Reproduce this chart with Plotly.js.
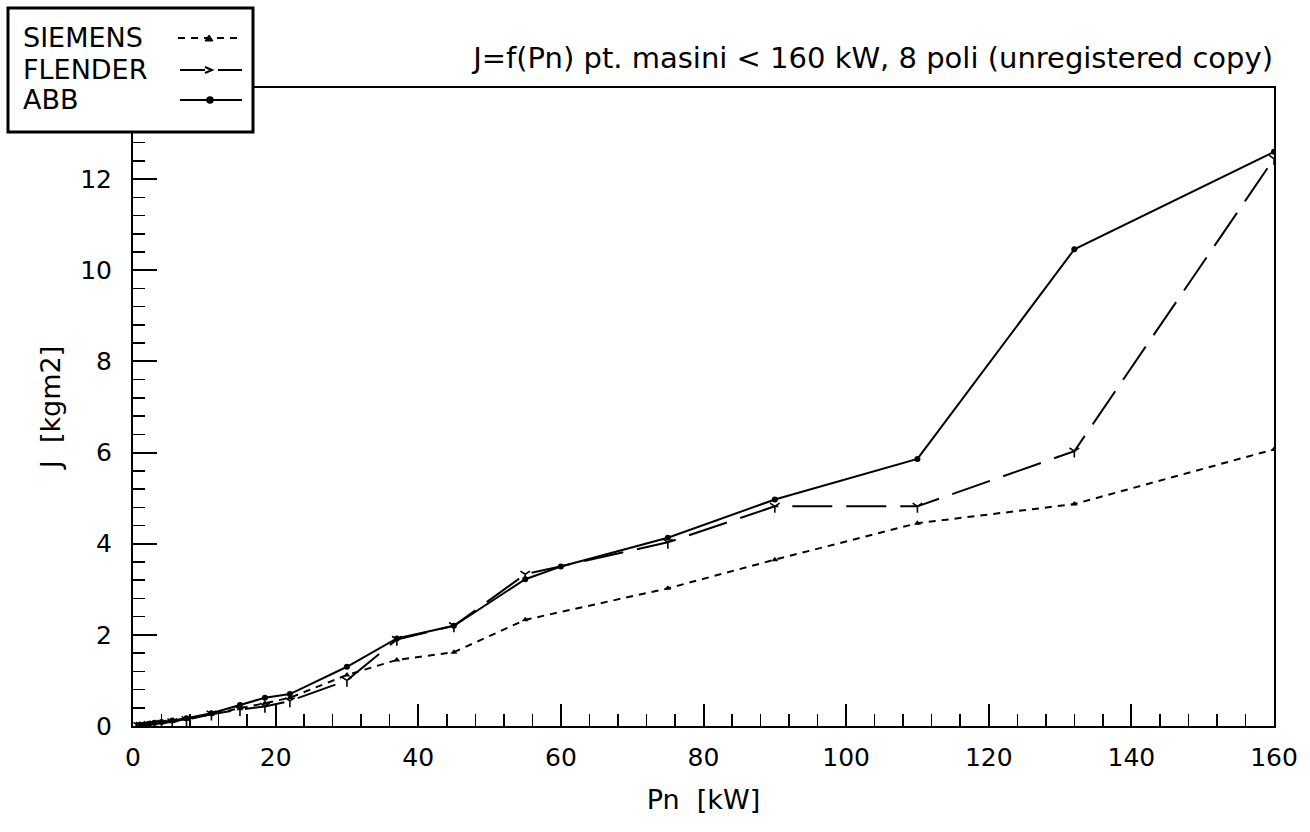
<!DOCTYPE html>
<html>
<head>
<meta charset="utf-8">
<script src="https://cdn.plot.ly/plotly-3.0.1.min.js"></script>
<style>html,body{margin:0;padding:0;background:#fff;}#chart{width:1310px;height:832px;}</style>
</head>
<body>
<div id="chart"></div>
<script>
// ---- data ----
const seriesNames = ["SIEMENS", "FLENDER", "ABB"];

const siemensPn = [0.75, 1.1, 1.5, 2.2, 3, 4, 5.5, 7.5, 11, 15, 18.5, 22, 30, 37, 45, 55, 75, 90, 110, 132, 160];
const siemensJ  = [0.01, 0.015, 0.02, 0.03, 0.05, 0.07, 0.1, 0.15, 0.26, 0.38, 0.5, 0.62, 1.12, 1.45, 1.62, 2.33, 3.02, 3.65, 4.45, 4.87, 6.07];

const flenderPn = [0.75, 1.1, 1.5, 2.2, 3, 4, 5.5, 7.5, 11, 15, 18.5, 22, 30, 37, 45, 55, 75, 90, 110, 132, 160];
const flenderJ  = [0.01, 0.015, 0.02, 0.03, 0.04, 0.06, 0.09, 0.14, 0.26, 0.36, 0.43, 0.55, 1.0, 1.9, 2.2, 3.33, 4.03, 4.82, 4.82, 6.03, 12.45];

const abbPn = [0.75, 1.1, 1.5, 2.2, 3, 4, 5.5, 7.5, 11, 15, 18.5, 22, 30, 37, 45, 55, 60, 75, 90, 110, 132, 160];
const abbJ  = [0.01, 0.02, 0.03, 0.05, 0.07, 0.09, 0.12, 0.17, 0.28, 0.46, 0.62, 0.7, 1.3, 1.92, 2.2, 3.22, 3.5, 4.13, 4.97, 5.86, 10.46, 12.6];

const xTickVals = [0, 20, 40, 60, 80, 100, 120, 140, 160];
const yTickVals = [0, 2, 4, 6, 8, 10, 12];

const chartTitle = "J=f(Pn) pt. masini < 160 kW, 8 poli (unregistered copy)";
const xTitle = "Pn\u00a0\u00a0[kW]";
const yTitle = "J\u00a0\u00a0[kgm2]";

// ---- styling ----
const FONT = "DejaVu Sans, Verdana, sans-serif";
const ink = "#000";

const traces = [
  {x: siemensPn, y: siemensJ, name: seriesNames[0], mode: "lines+markers",
   line: {color: ink, width: 2, dash: "7px,6px"},
   marker: {symbol: "triangle-up", size: 6, color: ink}},
  {x: flenderPn, y: flenderJ, name: seriesNames[1], mode: "lines+markers",
   line: {color: ink, width: 2, dash: "40px,14px"},
   marker: {symbol: "y-down-open", size: 8, color: ink, line: {width: 1.6, color: ink}}},
  {x: abbPn, y: abbJ, name: seriesNames[2], mode: "lines+markers",
   line: {color: ink, width: 2},
   marker: {symbol: "circle", size: 6, color: ink}}
];

// geometry of the plot area in page pixels
const W = 1310, H = 832;
const L = 133, R = 1274, T = 88, B = 726;
// custom legend (text left, sample right), page pixels -> paper coordinates
const px = v => (v - L) / (R - L), py = v => (B - v) / (B - T);
const legRows = [38, 70, 100];
const shapes = [
  {type: "rect", xref: "paper", yref: "paper", x0: px(8), x1: px(253), y0: py(132), y1: py(8),
   line: {color: ink, width: 3}, fillcolor: "#fff", layer: "above"},
  {type: "line", xref: "paper", yref: "paper", x0: px(178), x1: px(241), y0: py(legRows[0]), y1: py(legRows[0]),
   line: {color: ink, width: 2, dash: "7px,6px"}, layer: "above"},
  {type: "path", xref: "paper", yref: "paper",
   path: `M ${px(205)} ${py(legRows[0]+3)} L ${px(209)} ${py(legRows[0]-3)} L ${px(213)} ${py(legRows[0]+3)} Z`,
   line: {color: ink, width: 1}, fillcolor: ink, layer: "above"},
  {type: "line", xref: "paper", yref: "paper", x0: px(180), x1: px(205), y0: py(legRows[1]), y1: py(legRows[1]),
   line: {color: ink, width: 2}, layer: "above"},
  {type: "line", xref: "paper", yref: "paper", x0: px(218), x1: px(242), y0: py(legRows[1]), y1: py(legRows[1]),
   line: {color: ink, width: 2}, layer: "above"},
  {type: "path", xref: "paper", yref: "paper",
   path: `M ${px(205)} ${py(legRows[1]-3)} L ${px(212)} ${py(legRows[1])} L ${px(205)} ${py(legRows[1]+3)}`,
   line: {color: ink, width: 2}, layer: "above"},
  {type: "line", xref: "paper", yref: "paper", x0: px(180), x1: px(242), y0: py(legRows[2]), y1: py(legRows[2]),
   line: {color: ink, width: 2}, layer: "above"},
  {type: "circle", xref: "paper", yref: "paper", x0: px(207), x1: px(213), y0: py(legRows[2]+3), y1: py(legRows[2]-3),
   line: {color: ink, width: 1.5}, fillcolor: ink, layer: "above"}
];
const annotations = seriesNames.map((n, i) => ({
  xref: "paper", yref: "paper", x: px(21), y: py(legRows[i]), xanchor: "left", yanchor: "middle",
  text: n, showarrow: false, font: {family: FONT, size: 27, color: ink}
}));

const layout = {
  width: W, height: H,
  margin: {l: L, r: W - R, t: T, b: H - B, pad: 0},
  paper_bgcolor: "#fff", plot_bgcolor: "#fff",
  showlegend: false,
  font: {family: FONT, color: ink, size: 25},
  title: {text: chartTitle, font: {family: FONT, size: 29, color: ink},
          xref: "container", yref: "container", x: 1273 / W, xanchor: "right",
          y: 1 - 58 / H, yanchor: "middle"},
  xaxis: {
    range: [0, 160], tickvals: xTickVals, ticks: "inside", ticklen: 22, tickwidth: 2, tickcolor: ink,
    minor: {dtick: 4, ticks: "inside", ticklen: 12, tickwidth: 1.5, tickcolor: ink},
    showline: true, linewidth: 2, linecolor: ink, mirror: true, showgrid: false, zeroline: false,
    tickfont: {family: FONT, size: 25, color: ink}, ticklabelstandoff: 8,
    title: {text: xTitle, font: {family: FONT, size: 27, color: ink}, standoff: 19}
  },
  yaxis: {
    range: [0, 14], tickvals: yTickVals, ticks: "inside", ticklen: 24, tickwidth: 2, tickcolor: ink,
    minor: {dtick: 0.4, ticks: "inside", ticklen: 12, tickwidth: 1.5, tickcolor: ink},
    showline: true, linewidth: 2, linecolor: ink, mirror: true, showgrid: false, zeroline: false,
    tickfont: {family: FONT, size: 25, color: ink}, ticklabelstandoff: 14,
    title: {text: yTitle, font: {family: FONT, size: 27, color: ink}, standoff: 12}
  },
  shapes: shapes,
  annotations: annotations
};

Plotly.newPlot("chart", traces, layout, {displayModeBar: false, staticPlot: true});
</script>
</body>
</html>
